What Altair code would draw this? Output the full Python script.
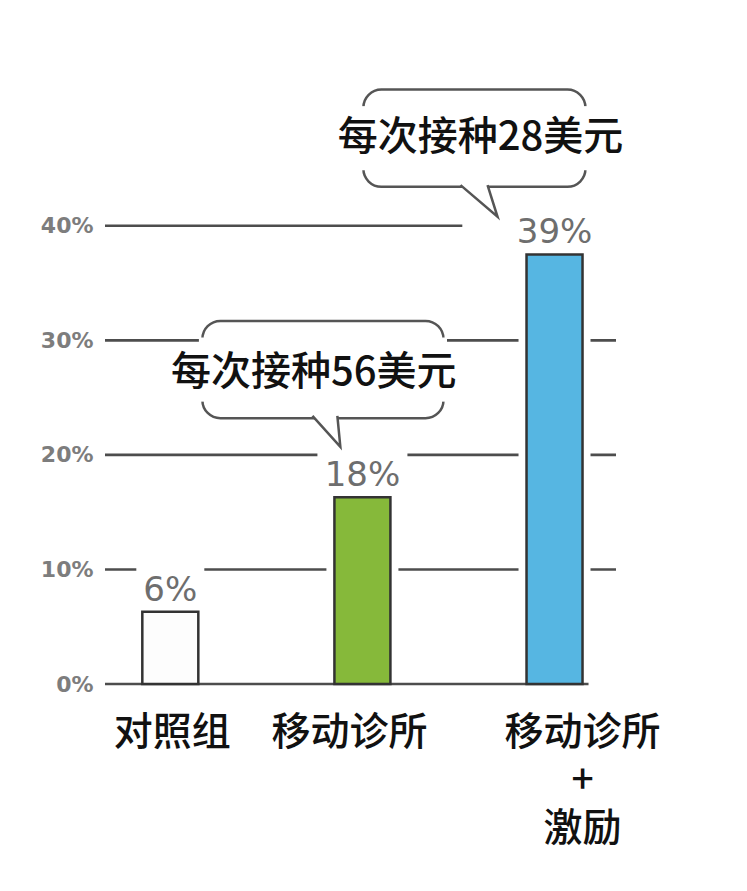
import altair as alt
import pandas as pd

# ---- data ----
categories = ["对照组", "移动诊所", "移动诊所\n+\n激励"]
rates = [6.3, 16.3, 37.5]            # bar heights (%)
rate_labels = ["6%", "18%", "39%"]   # printed value labels
y_ticks = [0, 10, 20, 30, 40]
bubble_texts = ["每次接种56美元", "每次接种28美元"]
bubble_bars = [1, 2]                 # bar each callout points at

# ---- styling ----
bar_colors = ["#fdfdfd", "#86b93a", "#56b6e2"]
W, H = 511, 630
X_DOM = [-0.34, 2.32]
Y_DOM = [0, 55]
PX = (X_DOM[1] - X_DOM[0]) / W        # x units per pixel
xs = alt.Scale(domain=X_DOM)
ys = alt.Scale(domain=Y_DOM)
LINE = "#4d4d4d"
CJK = "Noto Sans CJK SC"
NUM = "DejaVu Sans"


def X(field):
    return alt.X(field, scale=xs, axis=None)


def Y(field):
    return alt.Y(field, scale=ys, title=None)


bars = pd.DataFrame({"i": list(range(len(categories))), "cat": categories,
                     "rate": rates, "label": rate_labels})

grid = pd.DataFrame({"v": y_ticks[1:], "start": X_DOM[0],
                     "end": [X_DOM[1], X_DOM[1], X_DOM[1], 1.52]})
base = pd.DataFrame({"v": [0], "start": [X_DOM[0]], "end": [2.177]})

layers = []

# gridlines, carrying the y axis (labels only)
gridlines = alt.Chart(grid).mark_rule(color=LINE, strokeWidth=2.6).encode(
    x=X("start:Q"), x2="end:Q",
    y=alt.Y("v:Q", scale=ys, title=None, axis=alt.Axis(
        values=y_ticks, title=None, grid=False, domain=False, ticks=False,
        labelExpr="datum.value + '%'", labelFont=NUM, labelFontSize=22,
        labelFontWeight="bold", labelColor="#7d7d7d", labelPadding=12)))
layers.append(gridlines)

bar_base = alt.Chart(bars).transform_calculate(
    lo=f"datum.i - {28 * PX}", hi=f"datum.i + {28 * PX}",
    hlo=f"datum.i - {36 * PX}", hhi=f"datum.i + {36 * PX}",
    blo=f"datum.i - (length(datum.label) * 11 + 12) * {PX}",
    bhi=f"datum.i + (length(datum.label) * 11 + 12) * {PX}",
    by0="datum.rate + 0.3", by1="datum.rate + 4.6",
)

# white gaps cut into the gridlines around bars and value labels
bar_halo = bar_base.mark_rect(fill="white").encode(
    x=X("hlo:Q"), x2="hhi:Q", y=Y("rate:Q"), y2=alt.datum(0))
label_bg = bar_base.mark_rect(fill="white").encode(
    x=X("blo:Q"), x2="bhi:Q", y=Y("by0:Q"), y2="by1:Q")
layers += [bar_halo, label_bg]

baseline = alt.Chart(base).mark_rule(color=LINE, strokeWidth=2.6).encode(
    x=X("start:Q"), x2="end:Q", y=Y("v:Q"))
layers.append(baseline)

bar_layer = bar_base.mark_rect(stroke="#333333", strokeWidth=2.5).encode(
    x=X("lo:Q"), x2="hi:Q", y=Y("rate:Q"), y2=alt.datum(0),
    fill=alt.Fill("cat:N", scale=alt.Scale(domain=categories, range=bar_colors), legend=None))
layers.append(bar_layer)

val_text = bar_base.mark_text(font=NUM, fontSize=34, dy=-11, baseline="alphabetic",
                              color="#6e6e6e").encode(
    x=X("i:Q"), y=Y("rate:Q"), text="label:N")
layers.append(val_text)

# callout bubbles: geometry relative to the bar they point at
geom = [
    dict(x0=-0.833, x1=0.422, y0=23.2, y1=31.7, tx=-0.253, ty=27.15,
         kx=-0.1875, ky=21.97, ksize=900, path="M -0.93 -1.1 L 0.93 0.97 L 0.73 -1.1"),
    dict(x0=-0.995, x1=0.161, y0=43.4, y1=51.9, tx=-0.385, ty=47.65,
         kx=-0.393, ky=42.1, ksize=1369, path="M -1 -0.9 L 1 0.81 L 0.46 -0.9"),
]
for text, a, g in zip(bubble_texts, bubble_bars, geom):
    b = pd.DataFrame({"x0": [a + g["x0"]], "x1": [a + g["x1"]], "y0": [g["y0"]], "y1": [g["y1"]],
                      "tx": [a + g["tx"]], "ty": [g["ty"]], "kx": [a + g["kx"]], "ky": [g["ky"]],
                      "t": [text]})
    rect = alt.Chart(b).mark_rect(fill="white", stroke="#555555", strokeWidth=2.5,
                                  cornerRadius=18).encode(
        x=X("x0:Q"), x2="x1:Q", y=Y("y0:Q"), y2="y1:Q")
    sides = pd.DataFrame({"x": [a + g["x0"], a + g["x1"]],
                          "ya": [g["y0"] + 1.45] * 2, "yb": [g["y1"] - 1.45] * 2})
    blank = alt.Chart(sides).mark_rule(color="white", strokeWidth=7).encode(
        x=X("x:Q"), y=Y("ya:Q"), y2="yb:Q")
    tail = alt.Chart(b).mark_point(shape=g["path"], size=g["ksize"], filled=False,
                                   fill="white", fillOpacity=1, stroke="#555555",
                                   strokeWidth=2.5, opacity=1).encode(
        x=X("kx:Q"), y=Y("ky:Q"))
    label = alt.Chart(b).mark_text(font=CJK, fontSize=40, fontWeight=500, color="#111111",
                                   baseline="middle").encode(
        x=X("tx:Q"), y=Y("ty:Q"), text="t:N")
    layers += [rect, blank, tail, label]

# category labels under the bars
label_dx = [2, -13, 28]
for i, (cat, dx) in enumerate(zip(categories, label_dx)):
    d = pd.DataFrame({"i": [i], "cat": [cat]})
    layers.append(alt.Chart(d).mark_text(font=CJK, fontSize=39, fontWeight=500, color="#111111",
                                         baseline="top", lineBreak="\n", lineHeight=48,
                                         dx=dx).encode(
        x=X("i:Q"), y=alt.value(660), text="cat:N"))

chart = alt.layer(*layers).properties(
    width=W, height=H, autosize=alt.AutoSizeParams(type="none"),
    padding={"left": 97, "top": 46, "right": 123, "bottom": 199},
    background="white",
).configure_view(stroke=None)

chart.save("out.html", embed_options={"renderer": "svg", "actions": False})
